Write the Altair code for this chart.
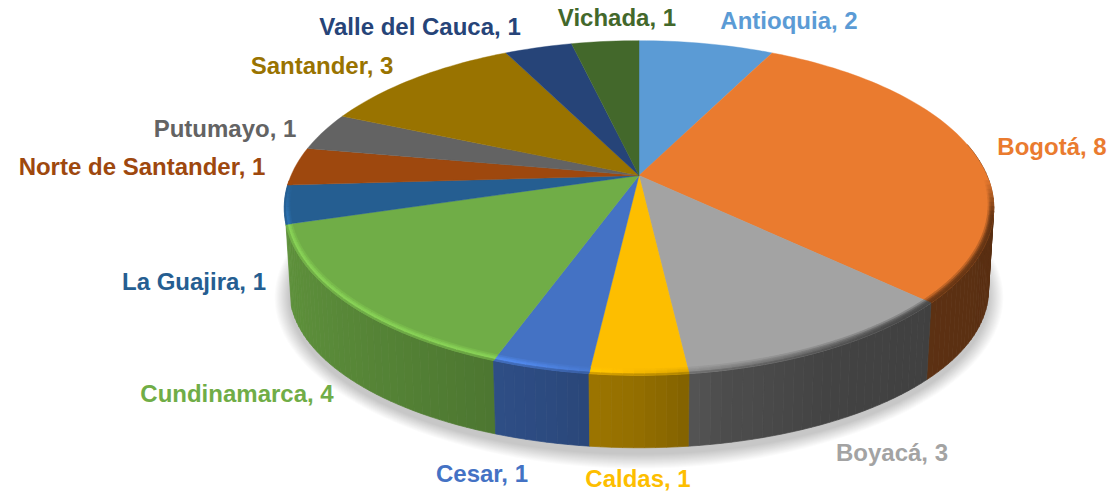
import numpy as np
import pandas as pd
import altair as alt

categories = ["Antioquia", "Bogotá", "Boyacá", "Caldas", "Cesar", "Cundinamarca", "La Guajira",
              "Norte de Santander", "Putumayo", "Santander", "Valle del Cauca", "Vichada"]
values = [2, 8, 3, 1, 1, 4, 1, 1, 1, 3, 1, 1]
colors = ["#5B9BD5", "#EA7B2F", "#A3A3A3", "#FDBE00", "#4472C4", "#70AD47", "#255E91",
          "#9E480E", "#636363", "#997300", "#264478", "#43682B"]
label_x = [789, 1052, 892, 638, 482, 237, 194, 142, 225, 322, 420, 617]
label_y = [22, 148, 454, 480, 475, 395, 283, 168, 130, 67, 28, 19]

# perspective geometry of the pie (pixel space of the picture)
CX, CY, R, S, K = 639, 175.5, 348, 161, 0.194
BOT_SX, BOT_SY, BOT_DY = 0.985, 0.94, 84.5


def project(theta, r=1.0, level=0.0):
    u, v = r * np.sin(theta), -r * np.cos(theta)
    x = R * u / (1 - K * v)
    y = S * v / (1 - K * v)
    return (CX + x * (1 - (1 - BOT_SX) * level), CY + y * (1 - (1 - BOT_SY) * level) + BOT_DY * level)


def hex_scale(c, f):
    rgb = [int(c[i:i + 2], 16) for i in (1, 3, 5)]
    return "#%02x%02x%02x" % tuple(int(min(255, round(a * f))) for a in rgb)


def wall_f(t):
    return float(np.interp(np.sin(t), [-1, -0.25, 0, 0.2, 0.46, 1], [0.85, 0.66, 0.58, 0.47, 0.41, 0.38]))


def rim_f(t):
    return float(np.interp(np.sin(t), [-1, -0.3, -0.1, 0.15, 0.6, 1], [1.22, 1.22, 1.05, 0.85, 0.5, 0.45]))


cum = np.cumsum([0] + values) / sum(values) * 2 * np.pi
tops, bevels, shadows = [], [], []
wall_polys = []
pid = 0


def add(rows, pts, color):
    global pid
    pid += 1
    pts = list(pts) + [pts[0]]
    for i, (x, y) in enumerate(pts):
        rows.append({"x": float(x), "y": float(y), "p": pid, "i": i, "c": color})


STEP = np.radians(1.5)
for a, b, c in zip(cum[:-1], cum[1:], colors):
    n = max(2, int((b - a) / STEP) + 1)
    th = np.linspace(a, b, n + 1)
    rim = [project(t) for t in th]
    add(tops, [(CX, CY)] + rim, c)
    for t0, t1 in zip(th[:-1], th[1:]):
        tm = (t0 + t1) / 2
        v = -np.cos(tm)
        if (np.sin(tm) > 0 and v > -0.2) or v > 0.28:
            wall_polys.append((v,
                               [project(t0), project(t1), project(t1, level=1), project(t0, level=1)],
                               hex_scale(c, wall_f(tm))))
        vis = float(np.clip((v - 0.02) / 0.22, 0, 1))
        if vis > 0:
            rf = 1 + (rim_f(tm) - 1) * vis
            wf = 1 + (wall_f(tm) - 1) * vis
            w = 0.026 * (0.5 + 0.5 * abs(v))
            rs = [1 - w, 1 - w * 0.73, 1 - w * 0.5, 1 - w * 0.23, 1.0]
            fs = [1 + (rf - 1) * 0.35, 1 + (rf - 1) * 0.75, rf, (rf + wf) / 2]
            for r0, r1, f in zip(rs[:-1], rs[1:], fs):
                add(bevels, [project(t0, r0), project(t1, r0), project(t1, r1), project(t0, r1)],
                    hex_scale(c, f))

walls = []
for _, pts, col in sorted(wall_polys, key=lambda w: w[0]):
    add(walls, pts, col)

th_all = np.linspace(0, 2 * np.pi, 181)
for g in np.linspace(15, 1, 14):
    pts = []
    for t in th_all[:-1]:
        x, y = project(t, level=1)
        dx, dy = x - CX, y - (CY + BOT_DY)
        L = np.hypot(dx, dy)
        pts.append((x + dx / L * g, y + dy / L * g + 6))
    add(shadows, pts, "#000000")

X = alt.X("x:Q", axis=None, scale=alt.Scale(domain=[8, 1109], zero=False, nice=False))
Y = alt.Y("y:Q", axis=None, scale=alt.Scale(domain=[491, 8], zero=False, nice=False))


def poly_layer(rows, sw=0.7):
    return alt.Chart(pd.DataFrame(rows)).mark_line(filled=True, strokeWidth=sw, interpolate="linear").encode(
        x=X, y=Y, detail="p:N", order="i:Q",
        fill=alt.Fill("c:N", scale=None), stroke=alt.Stroke("c:N", scale=None))


shadow = alt.Chart(pd.DataFrame(shadows)).mark_line(
    filled=True, fillOpacity=0.015, strokeWidth=0).encode(
    x=X, y=Y, detail="p:N", order="i:Q", fill=alt.value("#000000"))

labels = pd.DataFrame({"t": [f"{n}, {v}" for n, v in zip(categories, values)],
                       "x": label_x, "y": label_y, "c": colors})
text = alt.Chart(labels).mark_text(font="Liberation Sans", fontWeight="bold", fontSize=24,
                                   align="center", baseline="middle").encode(
    x=X, y=Y, text="t:N", color=alt.Color("c:N", scale=None))

chart = alt.layer(shadow, poly_layer(walls), poly_layer(tops, 0.4), poly_layer(bevels), text).properties(
    width=1101, height=483, padding=0, background="white",
    autosize=alt.AutoSizeParams(type="none")
).configure_view(stroke=None)

chart.save("out.html", embed_options={"renderer": "svg", "actions": False})
